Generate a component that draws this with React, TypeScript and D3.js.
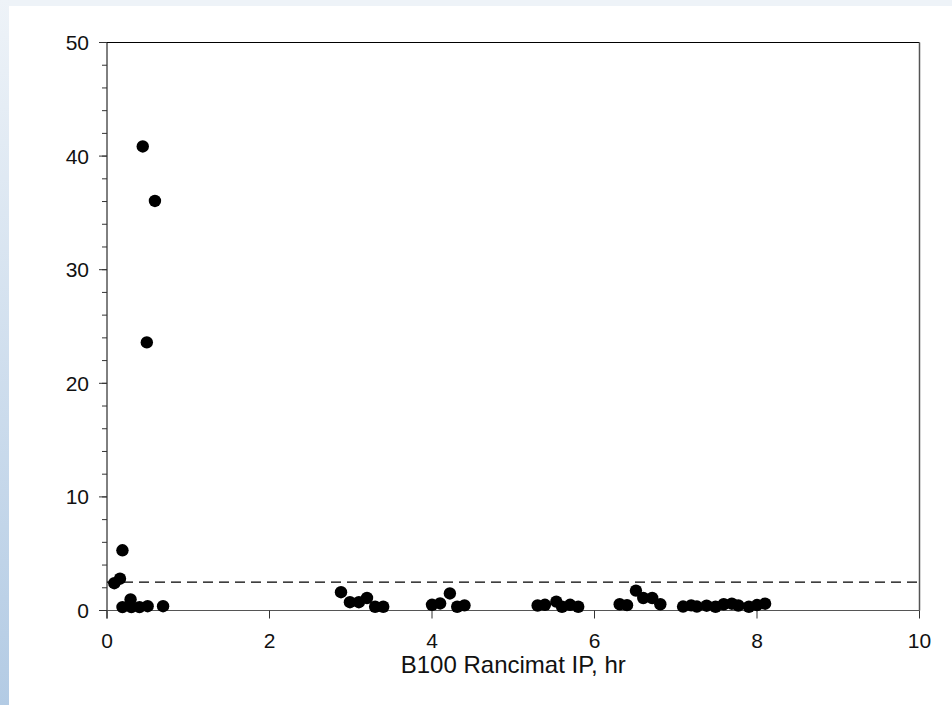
import React from "react";
import * as d3 from "d3";

const xValues = [
  0.09, 0.16, 0.19, 0.19, 0.29, 0.3, 0.4, 0.5, 0.69, 0.44, 0.49, 0.59,
  2.88, 2.99, 3.1, 3.2, 3.3, 3.4,
  4.0, 4.1, 4.22, 4.31, 4.4,
  5.3, 5.39, 5.53, 5.6, 5.7, 5.8,
  6.31, 6.4, 6.51, 6.6, 6.71, 6.81,
  7.09, 7.19, 7.26, 7.38, 7.49, 7.59, 7.69, 7.77, 7.9, 8.0, 8.1,
];
const yValues = [
  2.4, 2.8, 5.3, 0.3, 0.97, 0.3, 0.3, 0.38, 0.38, 40.85, 23.6, 36.05,
  1.61, 0.73, 0.73, 1.1, 0.33, 0.33,
  0.5, 0.62, 1.5, 0.33, 0.45,
  0.44, 0.5, 0.78, 0.33, 0.5, 0.33,
  0.55, 0.47, 1.75, 1.1, 1.1, 0.55,
  0.35, 0.45, 0.35, 0.42, 0.33, 0.55, 0.6, 0.44, 0.33, 0.48, 0.6,
];
const xTicks = [0, 2, 4, 6, 8, 10];
const yTicks = [0, 10, 20, 30, 40, 50];
const yMinorTicks = d3.range(0, 50.001, 2);
const limitValue = 2.5;
const xTitle = "B100 Rancimat IP, hr";

export default function App() {
  const W = 952;
  const H = 705;
  const left = 107;
  const right = 919.5;
  const top = 42.5;
  const bottom = 610.5;
  const x = d3.scaleLinear().domain([0, 10]).range([left, right]);
  const y = d3.scaleLinear().domain([0, 50]).range([bottom, top]);
  const font = "'Liberation Sans', Arial, sans-serif";

  return (
    <svg
      width={W}
      height={H}
      style={{ position: "absolute", left: 0, top: 0 }}
      xmlns="http://www.w3.org/2000/svg"
    >
      <defs>
        <linearGradient id="strip" x1="0" y1="0" x2="0" y2="1">
          <stop offset="0" stopColor="#eef3f8" />
          <stop offset="1" stopColor="#b3cbe4" />
        </linearGradient>
      </defs>
      <rect x={0} y={0} width={W} height={H} fill="#eef3f8" />
      <rect x={0} y={0} width={9} height={H} fill="url(#strip)" />
      <rect x={9} y={6} width={W - 9} height={H - 6} fill="#ffffff" />

      {/* frame */}
      <line x1={left} x2={right} y1={top} y2={top} stroke="#000" strokeWidth={1.2} />
      <line x1={right} x2={right} y1={top} y2={bottom} stroke="#555" strokeWidth={1.5} />
      <line x1={left} x2={left} y1={top} y2={bottom + 8} stroke="#000" strokeWidth={1} />
      <line x1={left - 8} x2={right} y1={bottom} y2={bottom} stroke="#555" strokeWidth={1.2} />

      {/* y minor ticks */}
      {yMinorTicks.map((t) => (
        <line
          key={"ym" + t}
          x1={left - 5}
          x2={left}
          y1={y(t)}
          y2={y(t)}
          stroke="#333"
          strokeWidth={1}
        />
      ))}
      {/* y major ticks */}
      {yTicks.map((t) => (
        <g key={"y" + t}>
          <line x1={left - 8} x2={left} y1={y(t)} y2={y(t)} stroke="#333" strokeWidth={1} />
          <text
            x={left - 18}
            y={y(t)}
            dy="0.36em"
            textAnchor="end"
            fontFamily={font}
            fontSize={21}
            fill="#111"
          >
            {t}
          </text>
        </g>
      ))}
      {/* x ticks */}
      {xTicks.map((t) => (
        <g key={"x" + t}>
          <line x1={x(t)} x2={x(t)} y1={bottom} y2={bottom + 8} stroke="#333" strokeWidth={1} />
          <text
            x={x(t)}
            y={bottom + 37}
            textAnchor="middle"
            fontFamily={font}
            fontSize={21}
            fill="#111"
          >
            {t}
          </text>
        </g>
      ))}
      <text
        x={(left + right) / 2}
        y={673}
        textAnchor="middle"
        fontFamily={font}
        fontSize={24}
        fill="#111"
      >
        {xTitle}
      </text>

      {/* limit line */}
      <line
        x1={left}
        x2={right}
        y1={y(limitValue)}
        y2={y(limitValue)}
        stroke="#000"
        strokeWidth={1.2}
        strokeDasharray="10,6"
      />

      {/* points */}
      {xValues.map((v, i) => (
        <circle key={"p" + i} cx={x(v)} cy={y(yValues[i])} r={6.2} fill="#000" />
      ))}
    </svg>
  );
}
